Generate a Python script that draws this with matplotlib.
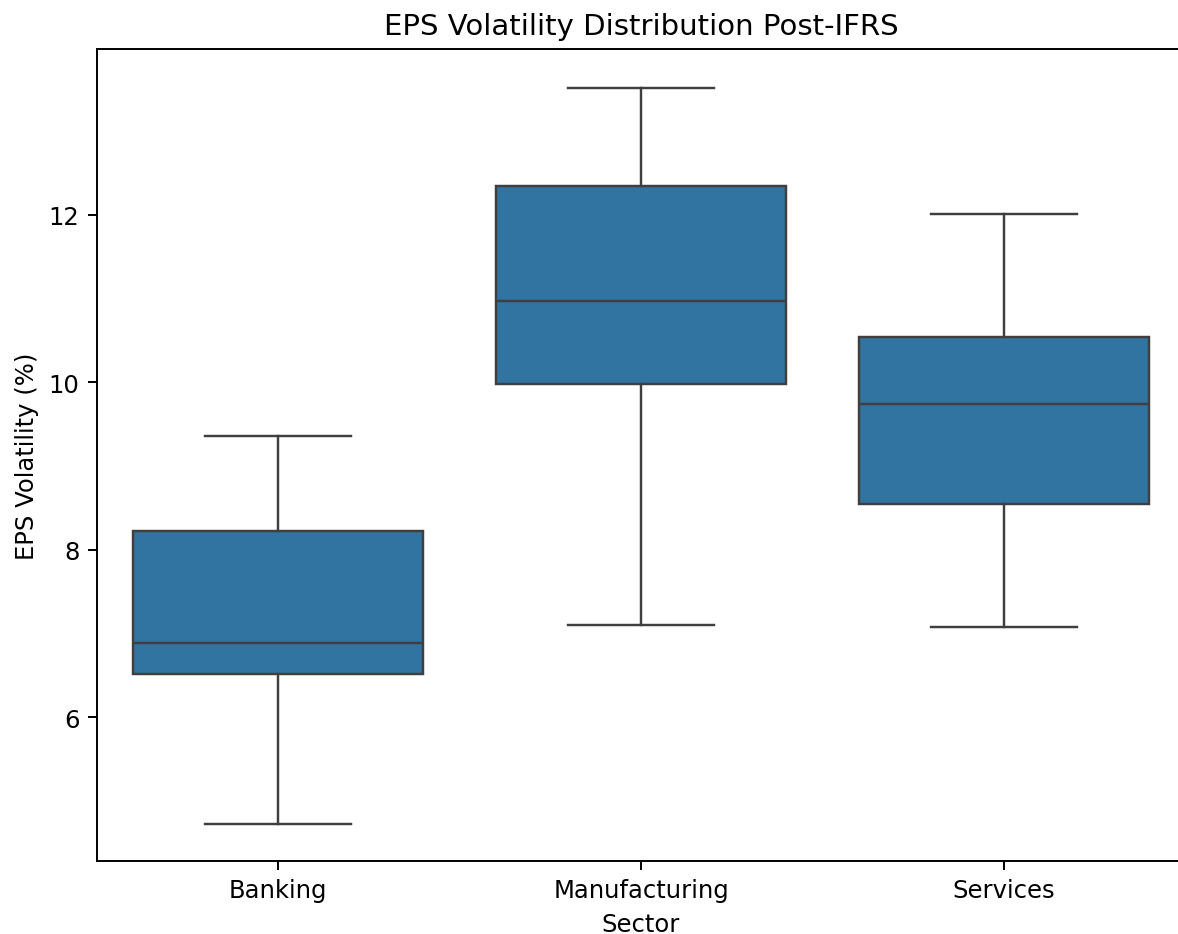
import matplotlib
matplotlib.use("Agg")
import matplotlib.pyplot as plt

sectors = ["Banking", "Manufacturing", "Services"]
whislo = [4.72, 7.10, 7.07]
q1 = [6.51, 9.98, 8.55]
med = [6.88, 10.97, 9.74]
q3 = [8.22, 12.35, 10.54]
whishi = [9.36, 13.52, 12.01]

stats = []
for i, s in enumerate(sectors):
    stats.append(dict(label=s, whislo=whislo[i], q1=q1[i], med=med[i],
                      q3=q3[i], whishi=whishi[i], fliers=[]))

dpi = 175
W, H = 1178, 935
fig = plt.figure(figsize=(W / dpi, H / dpi), dpi=dpi)
left_px, right_px, top_px, bot_px = 96.5, 1185.5, 50, 862
ax = fig.add_axes([left_px / W, 1 - bot_px / H, (right_px - left_px) / W, (bot_px - top_px) / H])

lc = "#3f3f3f"
lw = 1.0
ax.bxp(stats, positions=range(len(sectors)), widths=0.8, capwidths=0.4,
       patch_artist=True, showfliers=False,
       boxprops=dict(facecolor="#3274a1", edgecolor=lc, linewidth=lw),
       medianprops=dict(color=lc, linewidth=lw),
       whiskerprops=dict(color=lc, linewidth=lw),
       capprops=dict(color=lc, linewidth=lw))
ax.set_xlim(-0.5, 2.5)
ax.set_ylim(4.279, 13.984)
ax.set_yticks([6, 8, 10, 12])
ax.set_xticks(range(len(sectors)))
ax.set_xticklabels(sectors)
ax.set_title("EPS Volatility Distribution Post-IFRS", fontsize=12)
ax.set_xlabel("Sector")
ax.set_ylabel("EPS Volatility (%)")
fig.savefig("out.png", dpi=dpi)
